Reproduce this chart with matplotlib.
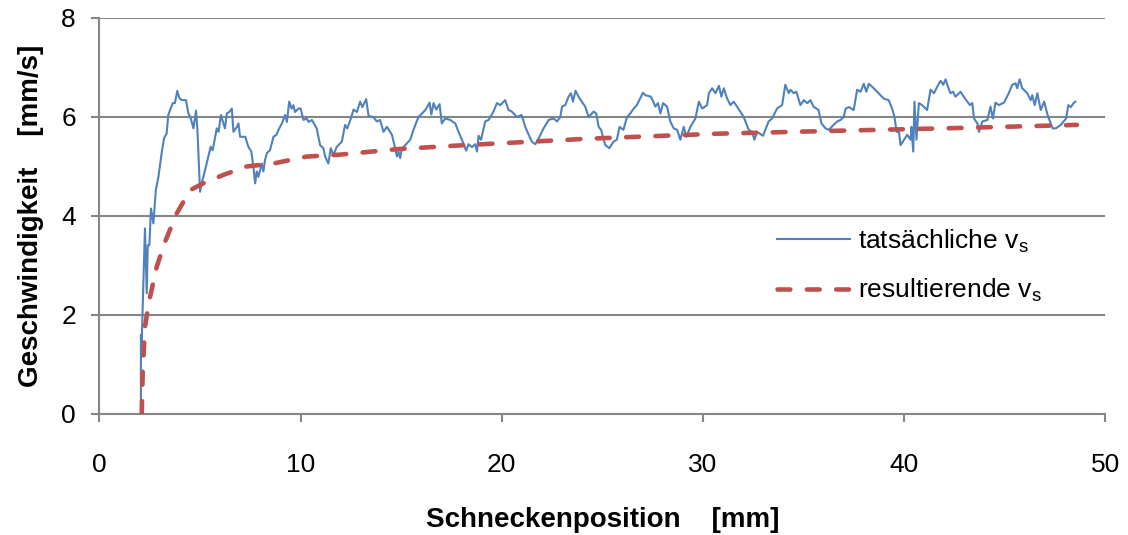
import matplotlib
matplotlib.use("Agg")
import matplotlib.pyplot as plt

plt.rcParams.update({
    "font.family": ["Liberation Sans", "DejaVu Sans"],
    "font.size": 19,
    "mathtext.fontset": "custom",
    "mathtext.rm": "Liberation Sans",
    "mathtext.it": "Liberation Sans:italic",
})

# measured screw speed (noisy)
pos_actual = [
    2.06, 2.06, 2.09, 2.12, 2.26, 2.35, 2.40, 2.48, 2.56, 2.68, 2.80, 2.93, 3.09, 3.21, 3.34, 3.42,
    3.64, 3.75, 3.87, 3.97, 4.10, 4.30, 4.42, 4.54, 4.67, 4.80, 4.87, 5.00, 5.08, 5.25, 5.41, 5.53,
    5.63, 5.75, 5.83, 5.92, 6.04, 6.16, 6.24, 6.33, 6.45, 6.58, 6.66, 6.83, 6.91, 6.99, 7.25, 7.40,
    7.55, 7.65, 7.74, 7.82, 7.90, 8.07, 8.15, 8.23, 8.32, 8.48, 8.65, 8.80, 8.90, 9.07, 9.23, 9.32,
    9.43, 9.55, 9.64, 9.72, 9.89, 10.00, 10.14, 10.30, 10.40, 10.56, 10.80, 10.97, 11.13, 11.22,
    11.38, 11.50, 11.63, 11.80, 12.05, 12.21, 12.32, 12.50, 12.63, 12.80, 12.96, 13.07, 13.26,
    13.38, 13.62, 13.79, 13.95, 14.12, 14.29, 14.54, 14.70, 14.79, 14.87, 14.95, 15.03, 15.20,
    15.45, 15.61, 15.86, 16.03, 16.20, 16.41, 16.50, 16.61, 16.74, 16.91, 17.02, 17.19, 17.44,
    17.69, 17.85, 18.02, 18.23, 18.35, 18.52, 18.68, 18.77, 18.85, 18.97, 19.18, 19.35, 19.59,
    19.76, 19.93, 20.17, 20.34, 20.50, 20.75, 20.99, 21.17, 21.34, 21.50, 21.67, 21.84, 22.08,
    22.33, 22.58, 22.75, 22.91, 23.00, 23.16, 23.32, 23.44, 23.54, 23.67, 23.82, 23.98, 24.15,
    24.32, 24.57, 24.70, 24.82, 24.94, 25.07, 25.15, 25.35, 25.56, 25.72, 25.86, 26.05, 26.23,
    26.39, 26.56, 26.72, 27.02, 27.14, 27.42, 27.64, 27.77, 27.89, 28.02, 28.22, 28.38, 28.55,
    28.72, 28.88, 29.05, 29.18, 29.38, 29.63, 29.80, 29.97, 30.21, 30.30, 30.46, 30.63, 30.80,
    30.92, 31.04, 31.20, 31.37, 31.53, 31.70, 32.03, 32.28, 32.45, 32.56, 32.70, 32.99, 33.27,
    33.44, 33.69, 33.94, 34.10, 34.27, 34.35, 34.52, 34.65, 34.85, 35.02, 35.19, 35.35, 35.50,
    35.75, 35.90, 36.10, 36.26, 36.50, 36.68, 36.85, 37.00, 37.10, 37.27, 37.50, 37.67, 37.84,
    38.00, 38.13, 38.25, 38.42, 38.67, 38.83, 39.00, 39.24, 39.41, 39.53, 39.63, 39.75, 39.83,
    40.00, 40.16, 40.33, 40.37, 40.46, 40.52, 40.62, 40.74, 40.90, 41.15, 41.32, 41.49, 41.65,
    41.82, 41.95, 42.07, 42.19, 42.31, 42.44, 42.56, 42.81, 42.97, 43.28, 43.40, 43.48, 43.65,
    43.73, 43.90, 44.15, 44.30, 44.42, 44.55, 44.72, 44.97, 45.21, 45.38, 45.55, 45.63, 45.75,
    45.88, 46.13, 46.30, 46.38, 46.50, 46.63, 46.80, 46.97, 47.14, 47.39, 47.55, 47.80, 48.06,
    48.17, 48.30, 48.43, 48.52,
]
v_actual = [
    0.00, 1.60, 1.16, 1.76, 3.75, 2.44, 3.41, 3.41, 4.15, 3.85, 4.52, 4.79, 5.27, 5.57, 5.67, 6.04,
    6.28, 6.28, 6.53, 6.38, 6.34, 6.34, 6.07, 5.97, 5.77, 6.13, 5.74, 4.49, 4.66, 4.93, 5.20, 5.40,
    5.33, 5.60, 5.77, 5.70, 6.04, 5.87, 5.77, 6.07, 6.10, 6.17, 5.70, 5.80, 5.87, 5.60, 5.60, 5.40,
    5.30, 5.00, 4.66, 4.90, 4.79, 5.06, 4.90, 5.13, 5.27, 5.33, 5.60, 5.64, 5.74, 5.87, 6.04, 5.90,
    6.31, 6.17, 6.24, 6.10, 6.17, 6.17, 5.94, 5.97, 5.90, 5.94, 5.77, 5.43, 5.37, 5.20,
    5.06, 5.37, 5.23, 5.40, 5.50, 5.84, 5.77, 5.97, 6.15, 6.10, 6.31, 6.20, 6.36,
    6.02, 6.00, 5.91, 5.94, 5.70, 5.80, 5.64, 5.37, 5.20, 5.30, 5.17, 5.35, 5.43,
    5.54, 5.74, 6.00, 6.07, 6.14, 6.29, 6.05, 6.28, 6.15, 6.26, 5.87, 5.97, 5.94,
    5.87, 5.70, 5.54, 5.32, 5.45, 5.39, 5.45, 5.30, 5.62, 5.54, 5.91, 5.94, 6.11,
    6.28, 6.24, 6.34, 6.14, 6.11, 6.00, 6.04, 5.80, 5.64, 5.50, 5.45, 5.57, 5.77,
    5.94, 5.97, 5.91, 6.00, 6.21, 6.24, 6.41, 6.48, 6.31, 6.53, 6.41, 6.31, 6.21,
    6.00, 6.11, 6.07, 5.80, 5.74, 5.54, 5.43, 5.37, 5.50, 5.54, 5.80, 5.74, 6.00,
    6.07, 6.17, 6.24, 6.49, 6.44, 6.41, 6.21, 6.28, 6.07, 6.28, 6.21, 5.91, 5.77,
    5.74, 5.54, 5.80, 5.60, 5.80, 5.97, 6.31, 6.17, 6.24, 6.48, 6.58, 6.48, 6.63,
    6.41, 6.58, 6.38, 6.24, 6.31, 6.21, 6.00, 5.74, 5.70, 5.54, 5.70, 5.62, 5.91,
    5.97, 6.17, 6.24, 6.65, 6.48, 6.55, 6.48, 6.51, 6.24, 6.34, 6.28, 6.34, 6.21,
    6.14, 5.87, 5.77, 5.74, 5.84, 5.91, 5.94, 6.00, 6.17, 6.20, 6.14, 6.55, 6.51,
    6.67, 6.51, 6.67, 6.61, 6.51, 6.44, 6.37, 6.34, 6.17, 6.00, 5.70, 5.70, 5.43,
    5.54, 5.64, 5.54, 5.80, 5.30, 6.31, 5.54, 6.28, 6.24, 6.14, 6.55, 6.48, 6.61,
    6.73, 6.65, 6.76, 6.61, 6.48, 6.51, 6.41, 6.51, 6.41, 6.24, 6.28, 5.97, 5.87,
    5.70, 5.91, 5.94, 6.21, 5.97, 6.29, 6.24, 6.29, 6.48, 6.65, 6.68, 6.58, 6.76,
    6.58, 6.48, 6.34, 6.44, 6.24, 6.48, 6.14, 6.31, 6.04, 5.77, 5.77, 5.84, 5.97,
    6.24, 6.20, 6.28, 6.31,
]

# resulting (averaged) screw speed
pos_result = [2.10, 2.15, 2.26, 2.48, 2.85, 3.26, 3.84, 4.50, 5.16, 6.16, 7.32, 8.65, 10.3,
              11.97, 14.79, 18.1, 21.42, 24.24, 30.54, 36.5, 42.97, 48.6]
v_result = [0.00, 0.85, 1.76, 2.30, 2.98, 3.48, 4.05, 4.52, 4.66, 4.83, 5.00, 5.06, 5.20,
            5.24, 5.35, 5.43, 5.50, 5.56, 5.66, 5.72, 5.78, 5.84]

x_ticks = [0, 10, 20, 30, 40, 50]
y_ticks = [0, 2, 4, 6, 8]

fig = plt.figure(figsize=(11.28, 5.35), dpi=100)
ax = fig.add_axes([0.0882, 0.2262, 0.8915, 0.7402])

ax.plot(pos_actual, v_actual, color="#4F81BD", lw=1.5,
        label="tatsächliche v$_\\mathrm{s}$", zorder=3)
ax.plot(pos_result, v_result, color="#C0504D", lw=3.3, dashes=(2.8, 3.6),
        dash_capstyle="round", label="resultierende v$_\\mathrm{s}$", zorder=4)

ax.set_xlim(0, 50)
ax.set_ylim(0, 8)
ax.set_xticks(x_ticks)
ax.set_yticks(y_ticks)
ax.yaxis.grid(True, color="#868686", lw=1.5)
ax.set_axisbelow(True)
for side in ("top", "right"):
    ax.spines[side].set_visible(False)
for side in ("left", "bottom"):
    ax.spines[side].set_color("#868686")
    ax.spines[side].set_linewidth(1.5)
ax.tick_params(axis="both", direction="out", length=6, width=1.5, color="#868686",
               labelsize=19)
ax.tick_params(axis="x", pad=22)
ax.tick_params(axis="y", pad=11)

ax.set_xlabel("Schneckenposition    [mm]", fontweight="bold", fontsize=20, labelpad=22)
ax.set_ylabel("Geschwindigkeit    [mm/s]", fontweight="bold", fontsize=20, labelpad=12)

ax.legend(loc="center left", bbox_to_anchor=(0.674, 0.374), frameon=False,
          handlelength=2.77, handletextpad=0.3, borderpad=0, borderaxespad=0,
          labelspacing=0.85, fontsize=19)

fig.savefig("out.png", dpi=100)
